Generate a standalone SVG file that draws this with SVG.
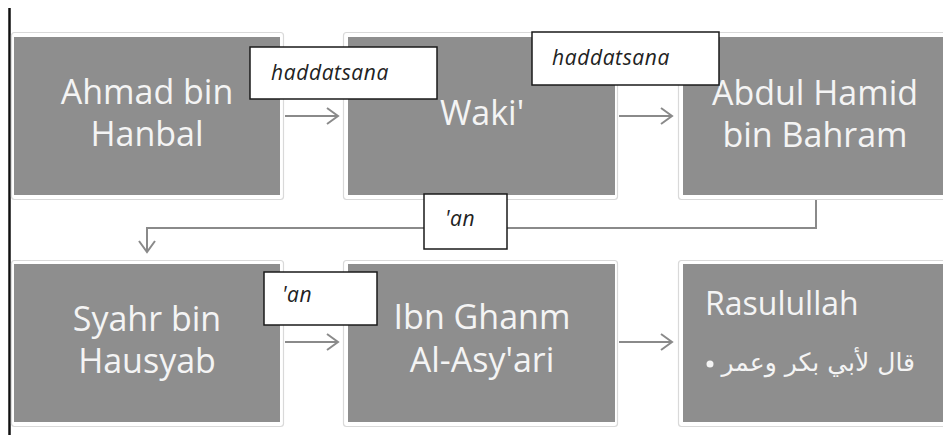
<svg xmlns="http://www.w3.org/2000/svg" width="943" height="435" viewBox="0 0 943 435">
<style>
.outer{fill:#ffffff;stroke:#d9d9d9;stroke-width:1.2}
.inner{fill:#8e8e8e}
.nt{font-family:"Open Sans","Liberation Sans",sans-serif;font-size:34px;fill:#f4f4f4;text-anchor:middle}
.lb{fill:#ffffff;stroke:#1a1a1a;stroke-width:1.5}
.lt{font-family:"Open Sans","Liberation Sans",sans-serif;font-style:italic;font-size:21px;letter-spacing:0.6px;fill:#222222}
.cn{fill:none;stroke:#8a8a8a;stroke-width:2}
</style>
<defs>
<marker id="ah" markerUnits="userSpaceOnUse" markerWidth="16" markerHeight="20" refX="13" refY="9" orient="auto">
<path d="M2,1 L13,9 L2,17" fill="none" stroke="#8a8a8a" stroke-width="2"/>
</marker>
</defs>
<rect width="943" height="435" fill="#ffffff"/>
<line x1="9.5" y1="8" x2="9.5" y2="435" stroke="#111111" stroke-width="2.5"/>
<g id="connectors">
<line class="cn" x1="285" y1="116" x2="338" y2="116" marker-end="url(#ah)"/>
<line class="cn" x1="619" y1="116" x2="672" y2="116" marker-end="url(#ah)"/>
<path class="cn" d="M816,200 V228 H147 V252" marker-end="url(#ah)"/>
<line class="cn" x1="285" y1="342" x2="338" y2="342" marker-end="url(#ah)"/>
<line class="cn" x1="619" y1="342" x2="672" y2="342" marker-end="url(#ah)"/>
</g>
<g id="n1">
<rect class="outer" x="11.5" y="32.5" width="272" height="167" rx="3"/>
<rect class="inner" x="14" y="37" width="266" height="158"/>
<text class="nt" x="147" y="104">Ahmad bin</text>
<text class="nt" x="147" y="146">Hanbal</text>
</g>
<g id="n2">
<rect class="outer" x="343.5" y="32.5" width="274" height="167" rx="3"/>
<rect class="inner" x="348" y="37" width="267" height="158"/>
<text class="nt" x="482" y="125">Waki'</text>
</g>
<g id="n3">
<rect class="outer" x="678.5" y="32.5" width="274" height="167" rx="3"/>
<rect class="inner" x="683" y="37" width="267" height="158"/>
<text class="nt" x="815" y="105">Abdul Hamid</text>
<text class="nt" x="815" y="147">bin Bahram</text>
</g>
<g id="n4">
<rect class="outer" x="11.5" y="260.5" width="272" height="166" rx="3"/>
<rect class="inner" x="14" y="264" width="266" height="158"/>
<text class="nt" x="147" y="331">Syahr bin</text>
<text class="nt" x="147" y="373">Hausyab</text>
</g>
<g id="n5">
<rect class="outer" x="343.5" y="260.5" width="274" height="166" rx="3"/>
<rect class="inner" x="348" y="264" width="267" height="158"/>
<text class="nt" x="482" y="329">Ibn Ghanm</text>
<text class="nt" x="482" y="372">Al-Asy'ari</text>
</g>
<g id="n6">
<rect class="outer" x="678.5" y="260.5" width="274" height="166" rx="3"/>
<rect class="inner" x="683" y="264" width="267" height="158"/>
<text x="705" y="315" font-family="Open Sans, Liberation Sans, sans-serif" font-size="32" fill="#f4f4f4">Rasulullah</text>
<circle cx="710" cy="364" r="3.5" fill="#f4f4f4"/>
<text x="915" y="371" text-anchor="end" font-family="DejaVu Sans, sans-serif" font-size="25" fill="#f4f4f4">قال لأبي بكر وعمر</text>
</g>
<g id="label1">
<rect class="lb" x="250" y="47" width="187" height="52"/>
<text class="lt" x="271" y="80">haddatsana</text>
</g>
<g id="label2">
<rect class="lb" x="532" y="32" width="187" height="53"/>
<text class="lt" x="552" y="65">haddatsana</text>
</g>
<g id="label3">
<rect class="lb" x="424" y="194" width="83" height="55"/>
<text class="lt" x="445" y="226">'an</text>
</g>
<g id="label4">
<rect class="lb" x="264" y="272" width="113" height="53"/>
<text class="lt" x="282" y="302">'an</text>
</g>
</svg>
